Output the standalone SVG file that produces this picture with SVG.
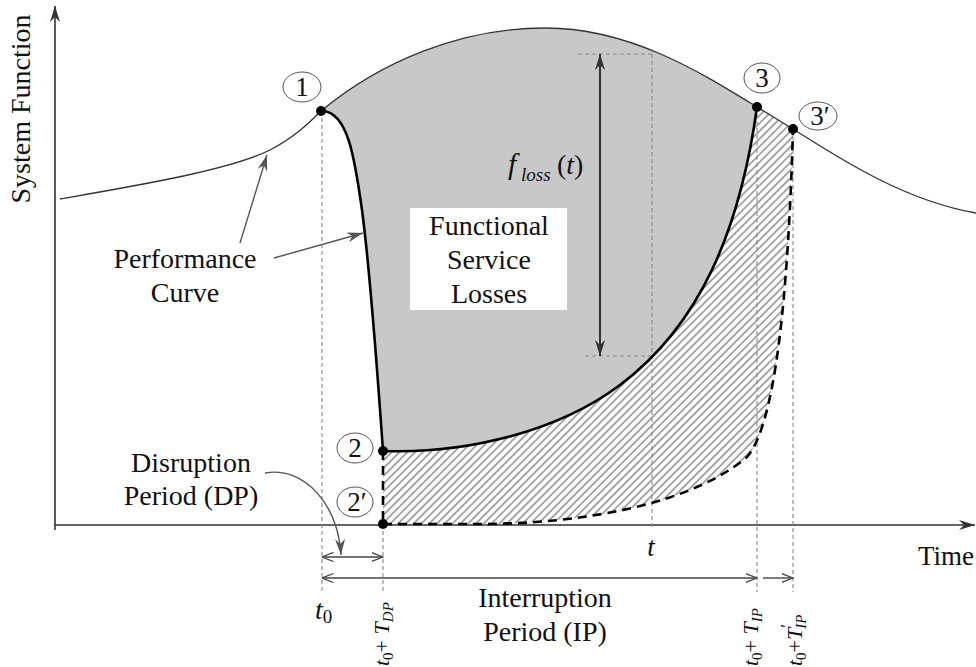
<svg xmlns="http://www.w3.org/2000/svg" width="976" height="667" viewBox="0 0 976 667">
<style>
text{font-family:"Liberation Serif","Times New Roman",serif;fill:#111}
.lbl{font-size:28px;text-anchor:middle}
.it{font-style:italic}
.vd{stroke:#888;stroke-width:1.1;stroke-dasharray:4 3;fill:none}
.perf{stroke:#333;stroke-width:1.3;fill:none}
.bold{stroke:#000;stroke-width:2.6;fill:none}
.bdash{stroke:#000;stroke-width:2.6;fill:none;stroke-dasharray:9 6}
.circ{fill:#fff;stroke:#555;stroke-width:1}
.dot{fill:#000}
.ptr{stroke:#555;stroke-width:1.4;fill:none}
.dim{stroke:#444;stroke-width:1.4;fill:none}
.num{font-size:27px;text-anchor:middle}
</style>
<defs>
<pattern id="hatch" width="5.5" height="5.5" patternUnits="userSpaceOnUse" patternTransform="rotate(45)">
<rect width="5.5" height="5.5" fill="#fff"/>
<line x1="2.75" y1="0" x2="2.75" y2="5.5" stroke="#a0a0a0" stroke-width="1.8"/>
</pattern>
<marker id="open" viewBox="0 0 12 10" refX="11.5" refY="5" markerWidth="12" markerHeight="10" markerUnits="userSpaceOnUse" orient="auto-start-reverse">
<path d="M0,0.5 L11.5,5 L0,9.5" fill="none" stroke="#444" stroke-width="1.3"/>
</marker>
<marker id="fill" viewBox="0 0 16 10" refX="16" refY="5" markerWidth="16" markerHeight="10" markerUnits="userSpaceOnUse" orient="auto-start-reverse">
<path d="M0,0 L16,5 L0,10 L5,5 Z" fill="#333"/>
</marker>
<marker id="gfill" viewBox="0 0 16 10" refX="16" refY="5" markerWidth="16" markerHeight="10" markerUnits="userSpaceOnUse" orient="auto">
<path d="M0,0 L16,5 L0,10 L5,5 Z" fill="#555"/>
</marker>
</defs>

<g id="regions">
<path id="loss-area" d="M321,111 C380,62 460,28 545,28 C630,28 700,72 757,107 C740,230 700,325 620,385 C560,430 470,454 383,451 C378,380 370,270 362,210 C355,160 348,110 321,111 Z" fill="#c8c8c8"/>
<path id="hatch-area" d="M383,451 C470,454 560,430 620,385 C700,325 740,230 757,107 L793,129 C788,300 775,425 747,457 C690,505 580,524 480,524 L383,524 Z" fill="url(#hatch)"/>
</g>

<g id="axes">
<line x1="55" y1="530" x2="55" y2="6" stroke="#333" stroke-width="1.6" marker-end="url(#fill)"/>
<line x1="55" y1="525" x2="975" y2="525" stroke="#333" stroke-width="1.6" marker-end="url(#fill)"/>
<text x="30" y="109" transform="rotate(-90 30 109)" style="font-size:28px;text-anchor:middle">System Function</text>
<text x="918" y="565" style="font-size:27px">Time</text>
</g>

<g id="connectors">
<line class="vd" x1="322" y1="111" x2="322" y2="592"/>
<line class="vd" x1="383" y1="524" x2="383" y2="592"/>
<line class="vd" x1="757" y1="107" x2="757" y2="592"/>
<line class="vd" x1="793" y1="129" x2="793" y2="592"/>
<line class="vd" x1="652" y1="54" x2="652" y2="530"/>
<line class="vd" x1="578" y1="54" x2="652" y2="54"/>
<line class="vd" x1="585" y1="356" x2="652" y2="356"/>
<line x1="600" y1="356" x2="600" y2="54" stroke="#333" stroke-width="2" marker-start="url(#fill)" marker-end="url(#fill)"/>
<path class="ptr" d="M240,243 L267,155" marker-end="url(#gfill)"/>
<path class="ptr" d="M274,258 L363,233" marker-end="url(#gfill)"/>
<path class="ptr" d="M265,473 C305,466 338,505 341,555" marker-end="url(#gfill)"/>
<line class="dim" x1="322" y1="557" x2="383" y2="557" marker-start="url(#open)" marker-end="url(#open)"/>
<line class="dim" x1="322" y1="578" x2="757" y2="578" marker-start="url(#open)" marker-end="url(#open)"/>
<line class="dim" x1="763" y1="578" x2="793" y2="578" marker-end="url(#open)"/>
</g>

<g id="curves">
<path class="perf" d="M60,199 C140,185 230,170 270,150 C295,137 310,122 321,111 C380,62 460,28 545,28 C630,28 700,72 757,107 L793,129 C830,152 900,200 976,213"/>
<path class="bold" d="M321,111 C348,110 355,160 362,210 C370,270 378,380 383,451"/>
<path class="bold" d="M383,451 C470,454 560,430 620,385 C700,325 740,230 757,107"/>
<path class="bdash" d="M383,451 L383,524"/>
<path class="bdash" d="M383,524 L480,524 C580,524 690,505 747,457 C775,425 788,300 793,129"/>
</g>

<g id="node-1">
<ellipse class="circ" cx="302" cy="87" rx="19" ry="15"/>
<text class="num" x="302" y="96">1</text>
<circle class="dot" cx="321" cy="111" r="5"/>
</g>
<g id="node-2">
<ellipse class="circ" cx="355" cy="448" rx="18" ry="15"/>
<text class="num" x="355" y="457">2</text>
<circle class="dot" cx="383" cy="451" r="5"/>
</g>
<g id="node-2p">
<ellipse class="circ" cx="355" cy="502" rx="18" ry="15"/>
<text class="num" x="357" y="511">2′</text>
<circle class="dot" cx="383" cy="524" r="5"/>
</g>
<g id="node-3">
<ellipse class="circ" cx="762" cy="78" rx="18" ry="15"/>
<text class="num" x="762" y="87">3</text>
<circle class="dot" cx="757" cy="107" r="5"/>
</g>
<g id="node-3p">
<ellipse class="circ" cx="818" cy="116" rx="19" ry="14"/>
<text class="num" x="820" y="125">3′</text>
<circle class="dot" cx="793" cy="129" r="5"/>
</g>

<g id="losses-box">
<rect x="410" y="208" width="157" height="102" fill="#fff"/>
<text class="lbl" x="489" y="235">Functional</text>
<text class="lbl" x="489" y="269">Service</text>
<text class="lbl" x="489" y="303">Losses</text>
</g>

<g id="floss-label">
<text x="508" y="174" class="it" style="font-size:30px">f</text>
<text x="521" y="181" class="it" style="font-size:19px">loss</text>
<text x="557" y="174" style="font-size:28px">(<tspan class="it">t</tspan>)</text>
</g>

<g id="perf-label">
<text class="lbl" x="185" y="268">Performance</text>
<text class="lbl" x="185" y="302">Curve</text>
</g>

<g id="dp-label">
<text class="lbl" x="191" y="472">Disruption</text>
<text class="lbl" x="191" y="505">Period (DP)</text>
</g>

<g id="ip-label">
<text class="lbl" x="545" y="607">Interruption</text>
<text class="lbl" x="545" y="641">Period (IP)</text>
</g>

<g id="time-labels">
<text x="651" y="556" class="it" style="font-size:27px;text-anchor:middle">t</text>
<text x="315" y="619" class="it" style="font-size:28px">t<tspan style="font-size:19px;font-style:normal" dy="4">0</tspan></text>
<text transform="translate(389,666) rotate(-90)" style="font-size:22px"><tspan class="it">t</tspan><tspan style="font-size:15px" dy="4">0</tspan><tspan dy="-4">+ </tspan><tspan class="it">T</tspan><tspan class="it" style="font-size:15px" dy="4">DP</tspan></text>
<text transform="translate(758,666) rotate(-90)" style="font-size:22px"><tspan class="it">t</tspan><tspan style="font-size:15px" dy="4">0</tspan><tspan dy="-4">+ </tspan><tspan class="it">T</tspan><tspan class="it" style="font-size:15px" dy="4">IP</tspan></text>
<text transform="translate(802,666) rotate(-90)" style="font-size:22px"><tspan class="it">t</tspan><tspan style="font-size:15px" dy="4">0</tspan><tspan dy="-4">+</tspan><tspan class="it">T</tspan><tspan style="font-size:18px" dy="-8">′</tspan><tspan class="it" style="font-size:15px" dx="-5" dy="12">IP</tspan></text>
</g>
</svg>
